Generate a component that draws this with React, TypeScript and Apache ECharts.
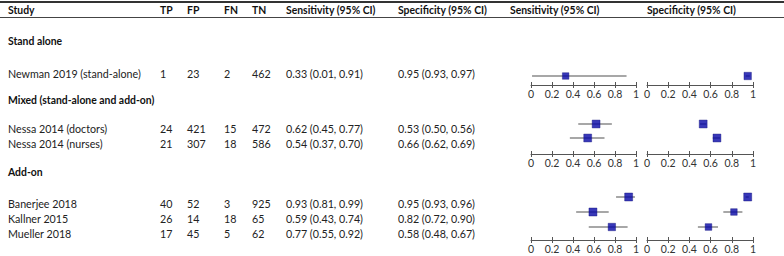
import React, { useEffect, useRef } from "react";
import * as echarts from "echarts";

const groups = ["Stand alone", "Mixed (stand-alone and add-on)", "Add-on"];
const studies = [
  "Newman 2019 (stand-alone)",
  "Nessa 2014 (doctors)",
  "Nessa 2014 (nurses)",
  "Banerjee 2018",
  "Kallner 2015",
  "Mueller 2018",
];
const groupOf = [0, 1, 1, 2, 2, 2];
const TP = [1, 24, 21, 40, 26, 17];
const FP = [23, 421, 307, 52, 14, 45];
const FN = [2, 15, 18, 3, 18, 5];
const TN = [462, 472, 586, 925, 65, 62];
const sens = [0.33, 0.62, 0.54, 0.93, 0.59, 0.77];
const sensLo = [0.01, 0.45, 0.37, 0.81, 0.43, 0.55];
const sensHi = [0.91, 0.77, 0.7, 0.99, 0.74, 0.92];
const spec = [0.95, 0.53, 0.66, 0.95, 0.82, 0.58];
const specLo = [0.93, 0.5, 0.62, 0.93, 0.72, 0.48];
const specHi = [0.97, 0.56, 0.69, 0.96, 0.9, 0.67];
const headers = ["Study", "TP", "FP", "FN", "TN", "Sensitivity (95% CI)", "Specificity (95% CI)"];
const plotHeaders = ["Sensitivity (95% CI)", "Specificity (95% CI)"];
const tickLabels = ["0", "0.2", "0.4", "0.6", "0.8", "1"];

const FONT = "Lato, 'Liberation Sans', sans-serif";
const colX = [8, 160, 187, 224, 252, 286, 398];
const plotHeaderX = [510, 647];
const groupTitleY = [41, 100, 172];
const rowTextY = [73, 128, 143, 203, 218, 233];
const groupLayout = [
  { y0: 76, spacing: 15, axisY: 85 },
  { y0: 124, spacing: 14, axisY: 154 },
  { y0: 197, spacing: 15, axisY: 240 },
];
const colGrid = [
  { left: 531, width: 105 },
  { left: 647, width: 106 },
];

function fmt(v: number) {
  return v.toFixed(2);
}

export default function App() {
  const ref = useRef<HTMLDivElement>(null);
  useEffect(() => {
    if (!ref.current) return;
    const chart = echarts.init(ref.current, undefined, { renderer: "svg" });

    const graphic: any[] = [];
    const txt = (text: string, x: number, y: number, bold = false, color = "#222") =>
      graphic.push({
        type: "text",
        x,
        y,
        style: {
          text,
          fill: color,
          font: bold ? `bold 10.4px ${FONT}` : `10.7px ${FONT}`,
          textAlign: "left",
          textVerticalAlign: "middle",
        },
      });
    graphic.push({
      type: "line",
      shape: { x1: 0, y1: 2, x2: 784, y2: 2 },
      style: { stroke: "#333", lineWidth: 2 },
    });
    graphic.push({
      type: "line",
      shape: { x1: 0, y1: 17.5, x2: 784, y2: 17.5 },
      style: { stroke: "#444", lineWidth: 1 },
    });
    headers.forEach((h, i) => txt(h, colX[i], 10, true, "#111"));
    plotHeaders.forEach((h, i) => txt(h, plotHeaderX[i], 10, true, "#111"));
    groups.forEach((g, i) => txt(g, 8, groupTitleY[i], true, "#111"));
    studies.forEach((s, i) => {
      const y = rowTextY[i];
      txt(s, colX[0], y);
      txt(String(TP[i]), colX[1], y);
      txt(String(FP[i]), colX[2], y);
      txt(String(FN[i]), colX[3], y);
      txt(String(TN[i]), colX[4], y);
      txt(`${fmt(sens[i])} (${fmt(sensLo[i])}, ${fmt(sensHi[i])})`, colX[5], y);
      txt(`${fmt(spec[i])} (${fmt(specLo[i])}, ${fmt(specHi[i])})`, colX[6], y);
    });

    const grids: any[] = [];
    const xAxes: any[] = [];
    const yAxes: any[] = [];
    const series: any[] = [];

    const cols = [
      { est: sens, lo: sensLo, hi: sensHi, w: TP.map((v, i) => v + FN[i]) },
      { est: spec, lo: specLo, hi: specHi, w: FP.map((v, i) => v + TN[i]) },
    ];

    groupLayout.forEach((gl, g) => {
      const idxs = studies.map((_, i) => i).filter((i) => groupOf[i] === g);
      const top = gl.y0 - gl.spacing;
      const height = gl.axisY - top;
      const yMax = (gl.axisY - gl.y0) / gl.spacing;
      cols.forEach((c, ci) => {
        const gi = grids.length;
        grids.push({
          left: colGrid[ci].left,
          width: colGrid[ci].width,
          top,
          height,
          containLabel: false,
        });
        const axisBase = {
          type: "value",
          gridIndex: gi,
          min: 0,
          max: 1,
          interval: 0.2,
          splitLine: { show: false },
        };
        const xi = xAxes.length;
        xAxes.push({
          ...axisBase,
          position: "bottom",
          axisLine: { show: true, onZero: false, lineStyle: { color: "#555", width: 1 } },
          axisTick: { show: true, length: 3, lineStyle: { color: "#555" } },
          axisLabel: {
            show: true,
            margin: 3,
            color: "#333",
            fontSize: 10.5,
            fontFamily: FONT,
            formatter: (v: number) => tickLabels[Math.round(v * 5)],
          },
        });
        xAxes.push({
          ...axisBase,
          position: "top",
          offset: -height,
          axisLine: { show: false, onZero: false },
          axisTick: { show: true, length: 3, lineStyle: { color: "#555" } },
          axisLabel: { show: false },
        });
        const yi = yAxes.length;
        yAxes.push({
          type: "value",
          gridIndex: gi,
          inverse: true,
          min: -1,
          max: yMax,
          show: false,
        });
        const maxW = Math.max(...c.w);
        series.push({
          type: "custom",
          xAxisIndex: xi,
          yAxisIndex: yi,
          data: idxs.map((i, k) => [c.lo[i], c.hi[i], k]),
          renderItem: (params: any, api: any) => {
            const p1 = api.coord([api.value(0), api.value(2)]);
            const p2 = api.coord([api.value(1), api.value(2)]);
            return {
              type: "line",
              shape: { x1: p1[0], y1: p1[1], x2: p2[0], y2: p2[1] },
              style: { stroke: "#8a8a8a", lineWidth: 1.5 },
            };
          },
          silent: true,
        });
        series.push({
          type: "scatter",
          xAxisIndex: xi,
          yAxisIndex: yi,
          symbol: "rect",
          data: idxs.map((i, k) => ({
            value: [c.est[i], k],
            symbolSize: 6 + 2 * Math.sqrt(c.w[i] / maxW),
          })),
          itemStyle: { color: "#0606a6", borderColor: "#10107a", borderWidth: 0.5 },
          silent: true,
        });
      });
    });

    chart.setOption({
      animation: false,
      grid: grids,
      xAxis: xAxes,
      yAxis: yAxes,
      series,
      graphic,
    });
    return () => chart.dispose();
  }, []);
  return (
    <div
      ref={ref}
      style={{ position: "fixed", left: 0, top: 0, width: 784, height: 256, background: "#fff" }}
    />
  );
}
